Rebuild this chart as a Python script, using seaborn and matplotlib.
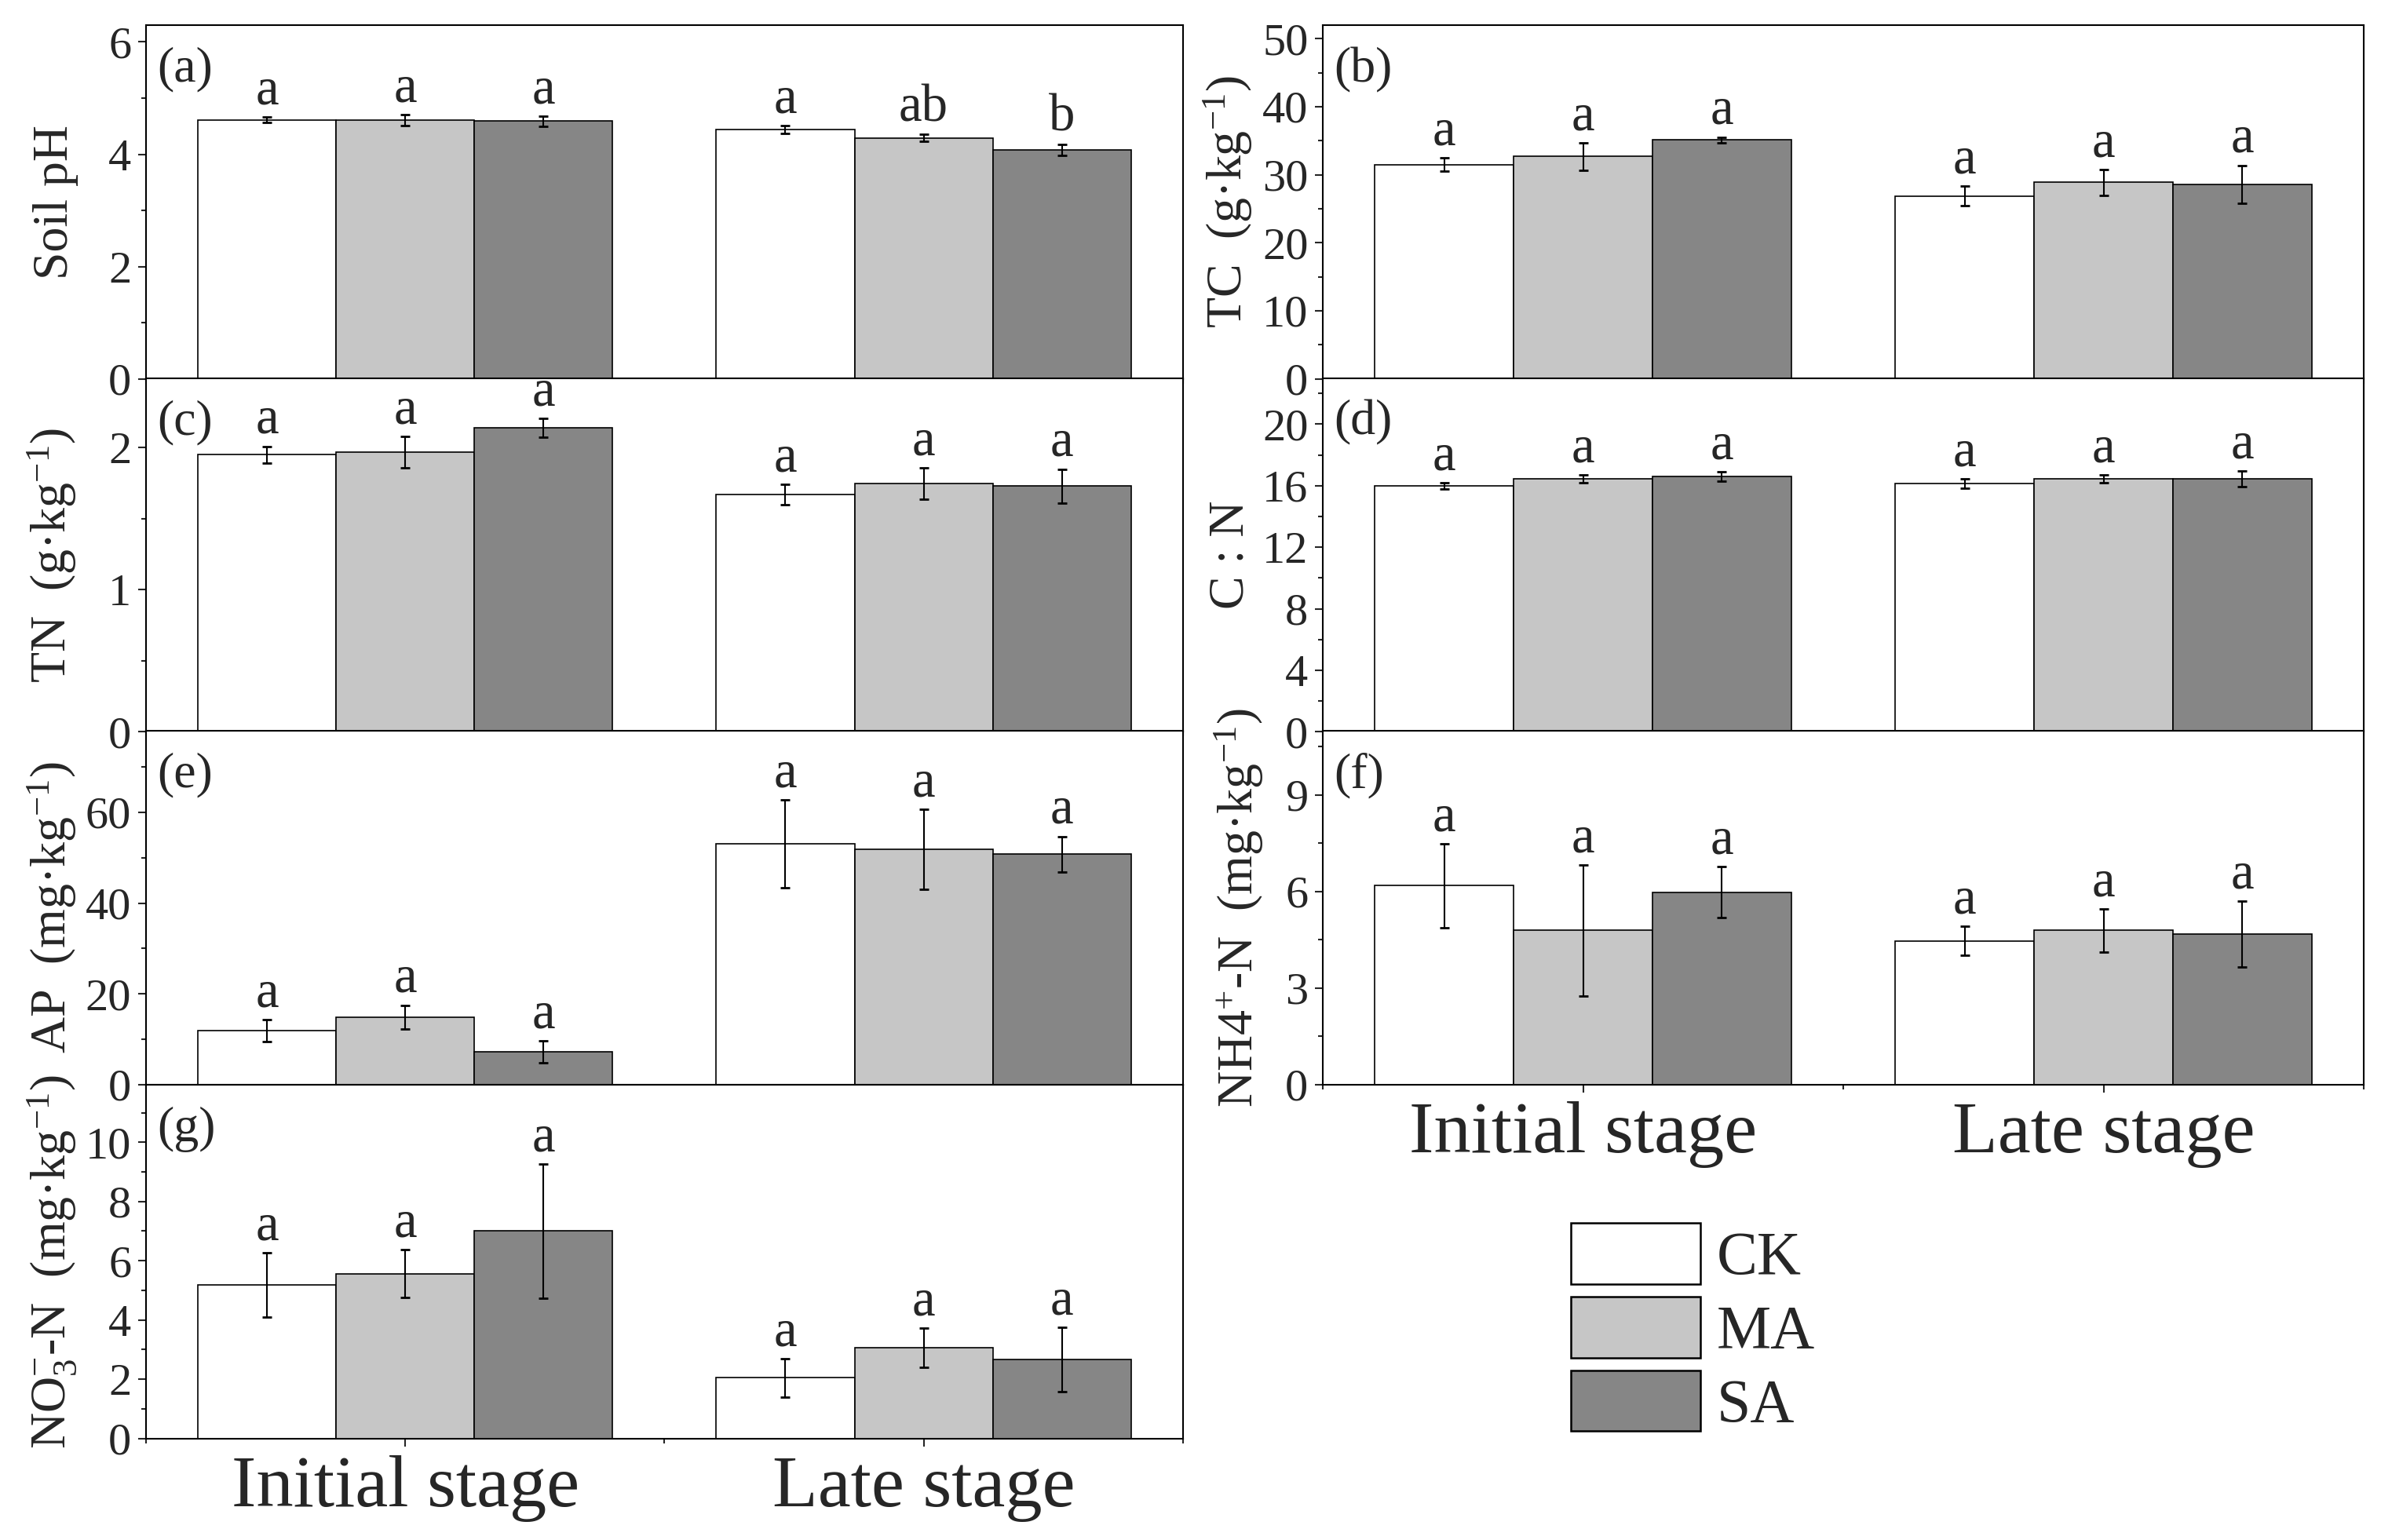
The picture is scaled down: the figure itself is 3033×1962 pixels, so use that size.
import pandas as pd
import matplotlib.pyplot as plt
import seaborn as sns
from matplotlib.patches import Patch
from matplotlib.container import BarContainer
from matplotlib.ticker import MultipleLocator, FixedLocator

# ---- data (rows: CK, MA, SA; columns: Initial stage, Late stage) ----
stages = ["Initial stage", "Late stage"]
treatments = ["CK", "MA", "SA"]
colors = ["#ffffff", "#c6c6c6", "#868686"]

ph_mean = [[4.61, 4.44], [4.61, 4.29], [4.59, 4.08]]
ph_err = [[0.05, 0.07], [0.10, 0.06], [0.09, 0.10]]
ph_sig = [["a", "a"], ["a", "ab"], ["a", "b"]]

tc_mean = [[31.5, 26.9], [32.7, 28.9], [35.1, 28.6]]
tc_err = [[1.0, 1.4], [2.0, 1.9], [0.45, 2.8]]
tc_sig = [["a", "a"], ["a", "a"], ["a", "a"]]

tn_mean = [[1.95, 1.67], [1.97, 1.75], [2.14, 1.73]]
tn_err = [[0.06, 0.07], [0.11, 0.11], [0.065, 0.12]]
tn_sig = [["a", "a"], ["a", "a"], ["a", "a"]]

cn_mean = [[16.0, 16.15], [16.45, 16.45], [16.6, 16.45]]
cn_err = [[0.2, 0.3], [0.24, 0.24], [0.3, 0.5]]
cn_sig = [["a", "a"], ["a", "a"], ["a", "a"]]

ap_mean = [[11.9, 53.1], [14.9, 51.9], [7.2, 50.8]]
ap_err = [[2.4, 9.7], [2.6, 8.8], [2.4, 3.9]]
ap_sig = [["a", "a"], ["a", "a"], ["a", "a"]]

nh4_mean = [[6.18, 4.47], [4.79, 4.79], [5.98, 4.68]]
nh4_err = [[1.3, 0.44], [2.03, 0.67], [0.8, 1.03]]
nh4_sig = [["a", "a"], ["a", "a"], ["a", "a"]]

no3_mean = [[5.18, 2.05], [5.56, 3.06], [7.0, 2.66]]
no3_err = [[1.09, 0.65], [0.81, 0.67], [2.26, 1.09]]
no3_sig = [["a", "a"], ["a", "a"], ["a", "a"]]

sns.set_style("ticks")
plt.rcParams["font.family"] = ["Liberation Serif", "DejaVu Serif"]
plt.rcParams["mathtext.fontset"] = "custom"
plt.rcParams["mathtext.rm"] = "Liberation Serif"
plt.rcParams["mathtext.it"] = "Liberation Serif:italic"
plt.rcParams["mathtext.bf"] = "Liberation Serif:bold"
plt.rcParams["axes.linewidth"] = 1.5


def draw_panel(ax, mean, err, sig, ylabel, ytop, major, minor, tag,
               show_x=False, label_x=-0.065):
    df = pd.DataFrame([
        {"stage": s, "treatment": t, "value": mean[i][j]}
        for i, t in enumerate(treatments) for j, s in enumerate(stages)
    ])
    sns.barplot(data=df, x="stage", y="value", hue="treatment",
                order=stages, hue_order=treatments, palette=colors,
                saturation=1, errorbar=None, edgecolor="black",
                linewidth=1.2, width=0.8, legend=False, ax=ax)

    # error bars and significance letters on the seaborn bars
    bars = [c for c in ax.containers if isinstance(c, BarContainer)]
    for i, cont in enumerate(bars):
        xs = [b.get_x() + b.get_width() / 2 for b in cont]
        ys = [b.get_height() for b in cont]
        ax.errorbar(xs, ys, yerr=err[i], fmt="none", ecolor="black",
                    elinewidth=1.5, capsize=4.3, capthick=2, zorder=5)
        for j, (x, y) in enumerate(zip(xs, ys)):
            ax.annotate(sig[i][j], (x, y + err[i][j]), xytext=(0, 12),
                        textcoords="offset points", ha="center",
                        va="baseline", fontsize=48)

    ax.set_xlim(-0.5, 1.5)
    ax.set_ylim(0, ytop)
    ax.yaxis.set_major_locator(MultipleLocator(major))
    ax.yaxis.set_minor_locator(MultipleLocator(minor))
    ax.xaxis.set_minor_locator(FixedLocator([-0.5, 0.5, 1.5]))
    ax.tick_params(axis="y", which="major", direction="out", length=7.5,
                   width=1.5, labelsize=42, pad=6)
    ax.tick_params(axis="y", which="minor", direction="out", length=4.5,
                   width=1.5)
    ax.tick_params(axis="x", which="major", direction="out", length=7.5,
                   width=1.5, labelsize=68, pad=8, labelbottom=show_x)
    ax.tick_params(axis="x", which="minor", direction="out", length=4,
                   width=1.5)
    for sp in ax.spines.values():
        sp.set_visible(True)
        sp.set_linewidth(1.5)
        sp.set_color("black")

    ax.set_xlabel("")
    ax.set_ylabel(ylabel, fontsize=46)
    ax.yaxis.set_label_coords(label_x, 0.5)
    ax.text(0.011, 0.938, tag, transform=ax.transAxes, ha="left", va="top",
            fontsize=46)


fig = plt.figure(figsize=(30.33, 19.62), dpi=100)

rows = [0.9837, 0.7540, 0.5248, 0.2958, 0.0659]
h = rows[0] - rows[1]
lx, lw = 0.0613, 0.4355
rx, rw = 0.5556, 0.4372

ax_a = fig.add_axes([lx, rows[1], lw, h])
ax_c = fig.add_axes([lx, rows[2], lw, h])
ax_e = fig.add_axes([lx, rows[3], lw, h])
ax_g = fig.add_axes([lx, rows[4], lw, h])
ax_b = fig.add_axes([rx, rows[1], rw, h])
ax_d = fig.add_axes([rx, rows[2], rw, h])
ax_f = fig.add_axes([rx, rows[3], rw, h])

draw_panel(ax_a, ph_mean, ph_err, ph_sig, "Soil pH", 6.3, 2, 1, "(a)")
draw_panel(ax_c, tn_mean, tn_err, tn_sig, "TN  (g·kg$^{-1}$)", 2.49, 1, 0.5, "(c)")
draw_panel(ax_e, ap_mean, ap_err, ap_sig, "AP  (mg·kg$^{-1}$)", 78, 20, 10, "(e)")
draw_panel(ax_g, no3_mean, no3_err, no3_sig, "NO$_{3}^{-}$-N  (mg·kg$^{-1}$)",
           11.94, 2, 1, "(g)", show_x=True)
draw_panel(ax_b, tc_mean, tc_err, tc_sig, "TC  (g·kg$^{-1}$)", 52, 10, 5, "(b)",
           label_x=-0.066)
draw_panel(ax_d, cn_mean, cn_err, cn_sig, "C : N", 23, 4, 2, "(d)",
           label_x=-0.066)
draw_panel(ax_f, nh4_mean, nh4_err, nh4_sig, "NH4$^{+}$-N  (mg·kg$^{-1}$)",
           11, 3, 1.5, "(f)", show_x=True, label_x=-0.055)

handles = [Patch(facecolor=c, edgecolor="black", linewidth=1.8) for c in colors]
fig.legend(handles, treatments, loc="upper left",
           bbox_to_anchor=(2001 / 3033, 1 - 1558 / 1962), frameon=False,
           fontsize=56, handlelength=2.12, handleheight=1.16,
           labelspacing=0.15, handletextpad=0.27, borderpad=0,
           borderaxespad=0)

fig.savefig("out.png", dpi=100)
